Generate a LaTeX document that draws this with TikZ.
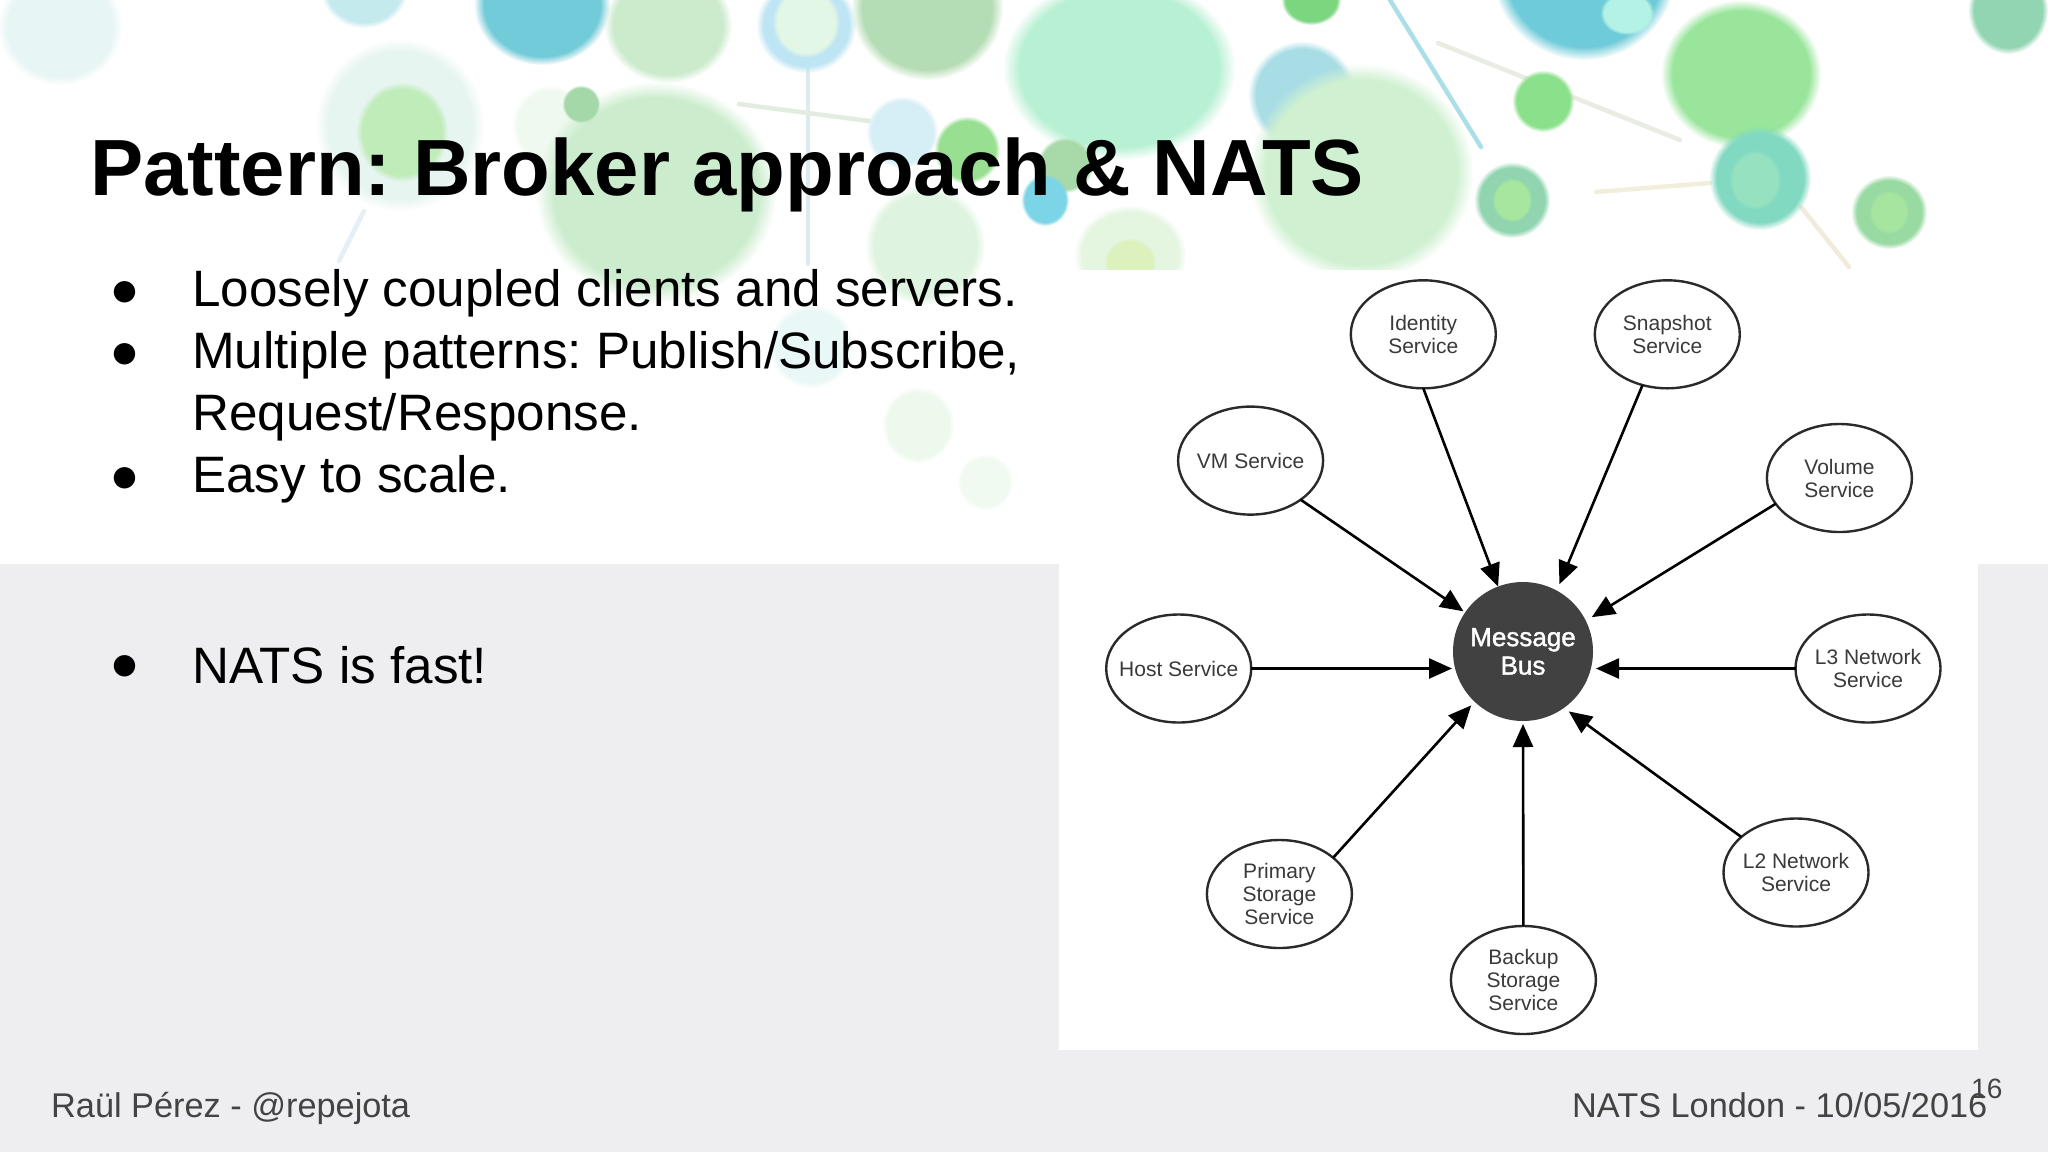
\documentclass[tikz,border=0pt]{standalone}
\usepackage{fontspec}
\setmainfont{Liberation Sans}
\newfontfamily\symfont{DejaVu Sans}
\newfontfamily\busfont[FakeBold=1.5]{Liberation Sans}
\usetikzlibrary{arrows.meta,shapes.geometric,fadings}
\definecolor{bandgrey}{HTML}{EEEDF0}
\definecolor{footgrey}{HTML}{434343}
\definecolor{busgrey}{HTML}{414141}
\definecolor{inkdark}{HTML}{2A2A2A}
\definecolor{svctext}{HTML}{3A3A3A}
\frenchspacing
\newcommand{\blob}[5]{\definecolor{blobcol}{HTML}{#5}\fill[blobcol,path fading=circle with fuzzy edge 15 percent] (#1pt,-#2pt) ellipse [x radius=#3pt,y radius=#4pt];}
\newcommand{\bgstroke}[5]{\definecolor{blobcol}{HTML}{#5}\draw[blobcol,bgline] (#1,#2) -- (#3,#4);}
\tikzset{
  svc/.style={draw=inkdark,fill=white,line width=2.4pt,ellipse,minimum width=145pt,minimum height=108pt,inner xsep=-18pt,inner ysep=-8pt,outer sep=0pt,align=center,text=svctext,font=\fontsize{21}{23}\selectfont},
  busnode/.style={fill=busgrey,ellipse,minimum width=140pt,minimum height=139pt,inner xsep=-15pt,inner ysep=-8pt,outer sep=0pt,align=center,text=white,font=\busfont\fontsize{26}{28.5}\selectfont},
  feed/.style={draw=black,line width=2.6pt,-{Triangle[length=23pt,width=20pt]}},
  bodytext/.style={anchor=base west,inner sep=0pt,text=black,font=\fontsize{51.2}{62}\selectfont},
  bulletmark/.style={anchor=center,inner sep=0pt,text=black,font=\symfont\fontsize{28}{28}\selectfont},
  foot/.style={anchor=base west,inner sep=0pt,text=footgrey,font=\fontsize{34.3}{35}\selectfont},
  bgline/.style={line width=4.5pt,line cap=round}
}
\begin{document}
\begin{tikzpicture}[x=1pt,y=-1pt]
\useasboundingbox (0,0) rectangle (2048,1152);
\fill[white] (0,0) rectangle (2048,1152);
% background decoration
\begin{scope}
\bgstroke{808}{68}{808}{264}{DCEBEB}
\bgstroke{739}{104}{869}{121}{E2ECE0}
\bgstroke{364}{211}{339}{261}{E4EFF8}
\bgstroke{1390}{0}{1481}{147}{ABDFE8}
\bgstroke{1438}{43}{1680}{140}{E8ECE3}
\bgstroke{1596}{192}{1710}{183}{F2EEDC}
\bgstroke{1801}{207}{1849}{267}{F0EBDB}
\blob{60}{27}{62}{58}{E8F5F5}
\blob{364}{-12}{44}{40}{C5EAEE}
\blob{542}{5}{68}{60}{72CBD8}
\blob{668}{25}{64}{58}{CBEBCC}
\blob{400}{125}{84}{86}{E6F5F0}
\blob{402}{132}{46}{50}{BFECB8}
\blob{550}{125}{38}{40}{EFF9EF}
\blob{656}{192}{120}{110}{CBEDCD}
\blob{581}{104}{19}{19}{A4D8A8}
\blob{806}{25}{50}{48}{BEE5F3}
\blob{806}{22}{34}{36}{E2F7E6}
\blob{927}{8}{76}{72}{B5DDB5}
\blob{1119}{68}{116}{92}{B7F0D3}
\blob{1302}{95}{54}{54}{A8DDE6}
\blob{1361}{172}{112}{108}{CFF1D1}
\blob{902}{132}{36}{36}{D6EEF6}
\blob{967}{150}{33}{34}{98DF92}
\blob{1065}{165}{28}{28}{A8D9A8}
\blob{1045}{200}{24}{26}{7CD5E6}
\blob{925}{245}{60}{60}{DFF4E0}
\blob{1130}{255}{56}{50}{E4F5E0}
\blob{1130}{262}{26}{24}{DDF1BC}
\blob{811}{346}{42}{42}{E9F7F6}
\blob{918}{425}{36}{38}{EDF9ED}
\blob{985}{482}{28}{28}{F1FAF1}
\blob{1311}{0}{30}{25}{7CD67F}
\blob{1584}{-30}{92}{90}{6ECBD9}
\blob{1627}{13}{27}{22}{B4F2E6}
\blob{1741}{74}{80}{74}{98E59B}
\blob{1543}{101}{31}{31}{8BE08B}
\blob{1512}{200}{38}{38}{90D5B0}
\blob{1512}{200}{20}{22}{A6E69E}
\blob{1760}{178}{51}{52}{82D9C2}
\blob{1755}{180}{26}{30}{96E2C0}
\blob{1889}{212}{38}{37}{98DAA2}
\blob{1889}{212}{20}{22}{A5E5A0}
\blob{2008}{10}{40}{44}{92D5B2}
\end{scope}
% slide bands
\fill[bandgrey] (0,564) rectangle (2048,1152);
\fill[white] (1059,270) rectangle (1978,1050);
% title and bullets
\node[anchor=base west,inner sep=0pt,text=black,font=\bfseries\fontsize{79.7}{80}\selectfont] (title) at (90,195) {Pattern: Broker approach \& NATS};
\node[bulletmark] (b1) at (124.5,292) {●};
\node[bulletmark] (b2) at (124.5,354) {●};
\node[bulletmark] (b3) at (124.5,478) {●};
\node[bulletmark] (b4) at (124.5,666) {●};
\node[bodytext] (t1) at (192,306) {Loosely coupled clients and servers.};
\node[bodytext] (t2) at (192,368) {Multiple patterns: Publish/Subscribe,};
\node[bodytext] (t3) at (192,430) {Request/Response.};
\node[bodytext] (t4) at (192,492) {Easy to scale.};
\node[bodytext] (t5) at (192,683) {NATS is fast!};
% diagram
\node[busnode] (bus) at (1523,651.5) {Message\\Bus};
\node[svc] (identity) at (1423.3,334.3) {Identity\\Service};
\node[svc] (snapshot) at (1667.3,334.3) {Snapshot\\Service};
\node[svc] (vm) at (1250.6,460.6) {VM Service};
\node[svc] (volume) at (1839.4,478) {Volume\\Service};
\node[svc] (host) at (1178.7,668.5) {Host Service};
\node[svc] (l3) at (1868,668.5) {L3 Network\\Service};
\node[svc] (primary) at (1279.4,894) {Primary\\Storage\\Service};
\node[svc] (l2) at (1796,872.5) {L2 Network\\Service};
\node[svc] (backup) at (1523.4,980) {Backup\\Storage\\Service};
\draw[feed] (identity.south) -- (bus.111);
\draw[feed,shorten >=7pt] (snapshot.244) -- (bus.61);
\draw[feed,shorten >=2pt] (vm.-38) -- (bus.146.6);
\draw[feed,shorten >=7pt] (volume.202) -- (bus.26.6);
\draw[feed,shorten >=1pt] (host.east) -- (host.east -| bus.west);
\draw[feed,shorten >=3pt] (l3.west) -- (l3.west -| bus.east);
\draw[feed,shorten >=5pt] (primary.34) -- (bus.226);
\draw[feed,shorten >=3pt] (backup.north) -- (bus.south);
\draw[feed,shorten >=6pt] (l2.147) -- (bus.306);
% footer
\node[foot] (author) at (51,1117) {Raül Pérez - @repejota};
\node[foot] (event) at (1572,1117) {NATS London - 10/05/2016};
\node[anchor=base west,inner sep=0pt,text=footgrey,font=\fontsize{28}{28}\selectfont] (page) at (1971,1098) {16};
\end{tikzpicture}
\end{document}
